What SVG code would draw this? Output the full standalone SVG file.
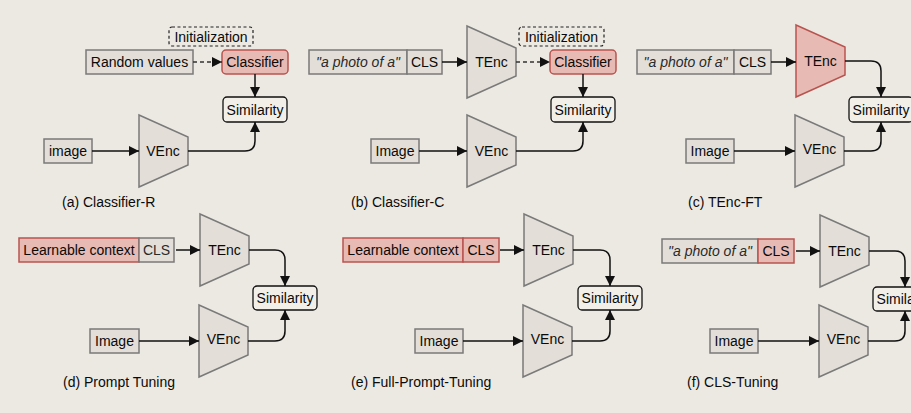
<svg xmlns="http://www.w3.org/2000/svg" width="911" height="413" viewBox="0 0 911 413">
<defs>
<marker id="ah" markerUnits="userSpaceOnUse" markerWidth="11" markerHeight="11" refX="10" refY="5" orient="auto">
<path d="M0,0 L10,5 L0,10 z" fill="#111"/>
</marker>
<style>
text{font-family:"Liberation Sans",Arial,sans-serif;font-size:14px;fill:#0a0a0a;}
.c{text-anchor:middle;dominant-baseline:central;}
.it{font-style:italic;fill:#2a2a2a;}
.g{fill:#e3dfd8;stroke:#7a7a7a;stroke-width:1.5;}
.r{fill:#e8bab4;stroke:#b85450;stroke-width:1.5;}
.s{fill:#f2efe9;stroke:#111;stroke-width:1.3;}
.d{fill:none;stroke:#222;stroke-width:1.2;stroke-dasharray:3,2.5;}
.ln{fill:none;stroke:#111;stroke-width:1.5;marker-end:url(#ah);}
.dl{fill:none;stroke:#333;stroke-width:1.5;stroke-dasharray:4,3;marker-end:url(#ah);}
</style>
</defs>
<rect width="911" height="413" fill="#ece9e2"/>

<!-- (a) -->
<g id="a-init"><rect class="d" x="169" y="27" width="84" height="19" rx="3"/><text class="c" x="211" y="36.5">Initialization</text></g>
<g id="a-random"><rect class="g" x="86" y="50" width="107" height="24"/><text class="c" x="139.5" y="62">Random values</text></g>
<g id="a-classifier"><rect class="r" x="222" y="50" width="66" height="24" rx="4"/><text class="c" x="255" y="62">Classifier</text></g>
<g id="a-sim"><rect class="s" x="223" y="97" width="64" height="25" rx="4"/><text class="c" x="255" y="109.5">Similarity</text></g>
<g id="a-image"><rect class="g" x="44" y="139" width="48" height="24"/><text class="c" x="68" y="151">image</text></g>
<g id="a-venc"><polygon class="g" points="139,115 188,137 188,165 139,187"/><text class="c" x="163" y="151">VEnc</text></g>
<text x="62" y="207">(a) Classifier-R</text>

<!-- (b) -->
<g id="b-prompt"><rect class="g" x="309" y="50" width="98" height="24"/><text class="c it" x="358" y="62">"a photo of a"</text><rect class="g" x="407" y="50" width="35" height="24"/><text class="c" x="424.5" y="62">CLS</text></g>
<g id="b-tenc"><polygon class="g" points="467,26 516,48 516,76 467,98"/><text class="c" x="491.5" y="62">TEnc</text></g>
<g id="b-init"><rect class="d" x="519" y="27" width="85" height="19" rx="3"/><text class="c" x="561.5" y="36.5">Initialization</text></g>
<g id="b-classifier"><rect class="r" x="550" y="50" width="66" height="24" rx="4"/><text class="c" x="583" y="62">Classifier</text></g>
<g id="b-sim"><rect class="s" x="551" y="97" width="64" height="25" rx="4"/><text class="c" x="583" y="109.5">Similarity</text></g>
<g id="b-image"><rect class="g" x="371" y="139" width="48" height="24"/><text class="c" x="395" y="151">Image</text></g>
<g id="b-venc"><polygon class="g" points="467,115 516,137 516,165 467,187"/><text class="c" x="491.5" y="151">VEnc</text></g>
<text x="351" y="207">(b) Classifier-C</text>

<!-- (c) -->
<g id="c-prompt"><rect class="g" x="637" y="50" width="97" height="24"/><text class="c it" x="685.5" y="62">"a photo of a"</text><rect class="g" x="734" y="50" width="37" height="24"/><text class="c" x="752.5" y="62">CLS</text></g>
<g id="c-tenc"><polygon class="r" points="796,25 845,47 845,75 796,97"/><text class="c" x="820.5" y="61">TEnc</text></g>
<g id="c-sim"><rect class="s" x="849" y="97" width="64" height="25" rx="4"/><text class="c" x="881" y="109.5">Similarity</text></g>
<g id="c-image"><rect class="g" x="686" y="139" width="48" height="24"/><text class="c" x="710" y="151">Image</text></g>
<g id="c-venc"><polygon class="g" points="795,115 844,137 844,165 795,187"/><text class="c" x="819.5" y="149">VEnc</text></g>
<text x="688" y="207">(c) TEnc-FT</text>

<!-- (d) -->
<g id="d-prompt"><rect class="r" x="19" y="238" width="120" height="24"/><text class="c" x="79" y="250">Learnable context</text><rect class="g" x="139" y="238" width="35" height="24"/><text class="c" x="156.5" y="250" style="fill:#2a2a2a">CLS</text></g>
<g id="d-tenc"><polygon class="g" points="200,214 249,236 249,264 200,286"/><text class="c" x="224.5" y="250">TEnc</text></g>
<g id="d-sim"><rect class="s" x="253" y="286" width="64" height="24" rx="4"/><text class="c" x="285" y="298">Similarity</text></g>
<g id="d-image"><rect class="g" x="90" y="329" width="49" height="24"/><text class="c" x="114.5" y="341">Image</text></g>
<g id="d-venc"><polygon class="g" points="199,305 248,327 248,355 199,377"/><text class="c" x="223.5" y="339">VEnc</text></g>
<text x="63" y="387">(d) Prompt Tuning</text>

<!-- (e) -->
<g id="e-prompt"><rect class="r" x="343" y="238" width="120" height="24"/><text class="c" x="403" y="250">Learnable context</text><rect class="r" x="463" y="238" width="36" height="24"/><text class="c" x="481" y="250">CLS</text></g>
<g id="e-tenc"><polygon class="g" points="524,214 573,236 573,264 524,286"/><text class="c" x="548.5" y="250">TEnc</text></g>
<g id="e-sim"><rect class="s" x="578" y="286" width="64" height="24" rx="4"/><text class="c" x="610" y="298">Similarity</text></g>
<g id="e-image"><rect class="g" x="415" y="329" width="48" height="24"/><text class="c" x="439" y="341">Image</text></g>
<g id="e-venc"><polygon class="g" points="523,305 572,327 572,355 523,377"/><text class="c" x="547.5" y="339">VEnc</text></g>
<text x="351" y="387">(e) Full-Prompt-Tuning</text>

<!-- (f) -->
<g id="f-prompt"><rect class="g" x="662" y="239" width="96" height="24"/><text class="c it" x="710" y="251">"a photo of a"</text><rect class="r" x="758" y="239" width="36" height="24"/><text class="c" x="776" y="251">CLS</text></g>
<g id="f-tenc"><polygon class="g" points="820,215 869,237 869,265 820,287"/><text class="c" x="844.5" y="251">TEnc</text></g>
<g id="f-sim"><rect class="s" x="873" y="287" width="64" height="24" rx="4"/><text class="c" x="905" y="299">Similarity</text></g>
<g id="f-image"><rect class="g" x="710" y="329" width="48" height="24"/><text class="c" x="734" y="341">Image</text></g>
<g id="f-venc"><polygon class="g" points="819,305 868,327 868,355 819,377"/><text class="c" x="843.5" y="339">VEnc</text></g>
<text x="687" y="387">(f) CLS-Tuning</text>

<g id="connectors">
<!-- a -->
<path class="dl" d="M193,62 H222"/>
<path class="ln" d="M255,74 V97"/>
<path class="ln" d="M92,151 H139"/>
<path class="ln" d="M188,151 H245 Q255,151 255,141 V122"/>
<!-- b -->
<path class="ln" d="M442,62 H467"/>
<path class="dl" d="M516,62 H550"/>
<path class="ln" d="M583,74 V97"/>
<path class="ln" d="M419,151 H467"/>
<path class="ln" d="M516,151 H573 Q583,151 583,141 V122"/>
<!-- c -->
<path class="ln" d="M771,62 H796"/>
<path class="ln" d="M845,61 H871 Q881,61 881,71 V97"/>
<path class="ln" d="M734,151 H795"/>
<path class="ln" d="M844,151 H871 Q881,151 881,141 V122"/>
<!-- d -->
<path class="ln" d="M176,250 H200"/>
<path class="ln" d="M249,250 H275 Q285,250 285,260 V286"/>
<path class="ln" d="M139,341 H199"/>
<path class="ln" d="M248,341 H275 Q285,341 285,331 V310"/>
<!-- e -->
<path class="ln" d="M500,250 H524"/>
<path class="ln" d="M573,250 H600 Q610,250 610,260 V286"/>
<path class="ln" d="M463,341 H523"/>
<path class="ln" d="M572,341 H600 Q610,341 610,331 V310"/>
<!-- f -->
<path class="ln" d="M796,251 H820"/>
<path class="ln" d="M869,251 H895 Q905,251 905,261 V287"/>
<path class="ln" d="M758,341 H819"/>
<path class="ln" d="M868,341 H895 Q905,341 905,331 V311"/>
</g>
</svg>
